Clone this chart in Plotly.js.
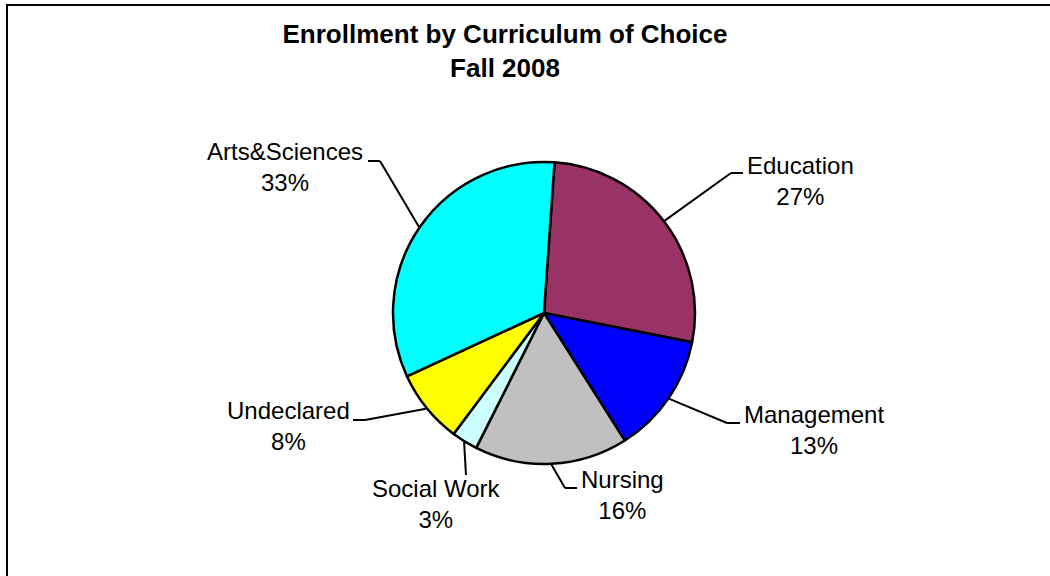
<!DOCTYPE html>
<html>
<head>
<meta charset="utf-8">
<script src="https://cdn.plot.ly/plotly-3.0.1.min.js"></script>
<style>html,body{margin:0;padding:0;background:#fff;}#chart{width:1050px;height:576px;}</style>
</head>
<body>
<div id="chart"></div>
<script>
// ---- data ----
const categories = ["Education", "Management", "Nursing", "Social Work", "Undeclared", "Arts&Sciences"];
const shares = [27, 12.9, 16.4, 2.8, 7.9, 33];
const colors = ["#993366", "#0000FF", "#C0C0C0", "#CCFFFF", "#FFFF00", "#00FFFF"];
const titleLines = ["Enrollment by Curriculum of Choice", "Fall 2008"];

// ---- layout constants (pixels) ----
const W = 1050, H = 576;
const cx = 544, cy = 313, R = 151;
const startDeg = 4;
// label block centers and leader elbow/end points, in the same order as categories
const labelPos = [[800, 181], [814, 430], [622, 495], [436, 504], [288, 426], [285, 167]];
const elbow = [[731, 173], [727, 423], [565, 488], [466, 475], [365, 420], [380, 161]];
const lineEnd = [[743, 173], [740, 423], [577, 488], [466, 475], [353, 420], [368, 161]];

const px = x => x / W;
const py = y => 1 - y / H;

const total = shares.reduce((a, b) => a + b, 0);
const shapes = [];
const annotations = [];
let acc = 0;
shares.forEach((v, i) => {
  const mid = (startDeg + (acc + v / 2) / total * 360) * Math.PI / 180;
  acc += v;
  const ex = cx + (R + 1) * Math.sin(mid);
  const ey = cy - (R + 1) * Math.cos(mid);
  shapes.push({type: "line", xref: "paper", yref: "paper",
    x0: px(ex), y0: py(ey), x1: px(elbow[i][0]), y1: py(elbow[i][1]),
    line: {color: "#000", width: 2}});
  shapes.push({type: "line", xref: "paper", yref: "paper",
    x0: px(elbow[i][0]), y0: py(elbow[i][1]), x1: px(lineEnd[i][0]), y1: py(lineEnd[i][1]),
    line: {color: "#000", width: 2}});
  const pct = Math.round(v / total * 100);
  annotations.push({xref: "paper", yref: "paper", x: px(labelPos[i][0]), y: py(labelPos[i][1]),
    xanchor: "center", yanchor: "middle", showarrow: false, align: "center",
    text: categories[i] + "<br>" + pct + "%",
    font: {family: "Liberation Sans, Arial, sans-serif", size: 24, color: "#000"}});
});

// chart border
shapes.push({type: "rect", xref: "paper", yref: "paper",
  x0: px(7), y0: -0.2, x1: 1.2, y1: py(5), line: {color: "#000", width: 2}});

const trace = {
  type: "pie",
  labels: categories,
  values: shares,
  sort: false,
  direction: "clockwise",
  rotation: startDeg,
  textinfo: "none",
  hoverinfo: "label+percent",
  marker: {colors: colors, line: {color: "#000", width: 2.5}},
  domain: {x: [px(cx - R), px(cx + R)], y: [py(cy + R), py(cy - R)]},
  showlegend: false
};

const layout = {
  width: W, height: H,
  margin: {l: 0, r: 0, t: 0, b: 0},
  paper_bgcolor: "#fff",
  showlegend: false,
  title: {text: titleLines.join("<br>"), x: px(505), xanchor: "center",
    y: py(43), yanchor: "middle", yref: "container",
    font: {family: "Liberation Sans, Arial, sans-serif", size: 26, color: "#000", weight: "bold"}},
  shapes: shapes,
  annotations: annotations
};

Plotly.newPlot("chart", [trace], layout, {displayModeBar: false, staticPlot: true});
</script>
</body>
</html>
